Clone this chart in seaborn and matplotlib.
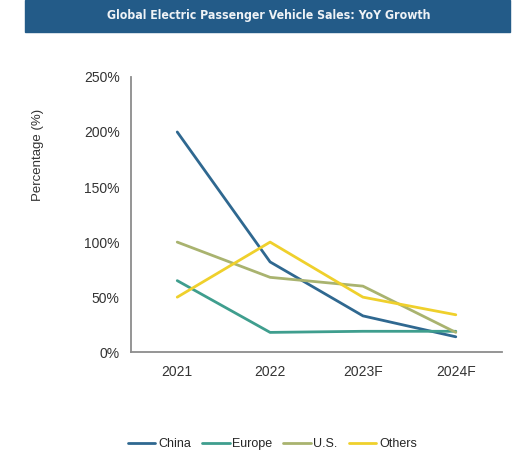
import pandas as pd
import matplotlib
matplotlib.use("Agg")
import matplotlib.pyplot as plt
import seaborn as sns
from matplotlib.ticker import PercentFormatter

# Data
years = ['2021', '2022', '2023F', '2024F']
china = [200, 82, 33, 14]
europe = [65, 18, 19, 19]
us = [100, 68, 60, 18]
others = [50, 100, 50, 34]

df = pd.DataFrame({'Year': years, 'China': china, 'Europe': europe,
                   'U.S.': us, 'Others': others})
long_df = df.melt(id_vars='Year', var_name='Region', value_name='Growth')

palette = {'China': '#2f6890', 'Europe': '#3f9e8e',
           'U.S.': '#a9b36f', 'Others': '#efd02c'}

sns.set_style('white')
plt.rcParams['font.family'] = ['Liberation Sans', 'DejaVu Sans']

fig = plt.figure(figsize=(5.13, 4.69), dpi=100)
ax = fig.add_axes([0.255, 0.249, 0.724, 0.587])

sns.lineplot(data=long_df, x='Year', y='Growth', hue='Region',
             palette=palette, linewidth=2, sort=False, ax=ax, legend=False)

ax.set_xlim(-0.5, 3.5)
ax.set_ylim(0, 250)
ax.set_yticks([0, 50, 100, 150, 200, 250])
ax.yaxis.set_major_formatter(PercentFormatter(decimals=0))
ax.tick_params(axis='both', length=0, labelsize=10, colors='#333333')
ax.tick_params(axis='x', pad=9)
ax.tick_params(axis='y', pad=8)
ax.set_xlabel('')
ax.set_ylabel('Percentage (%)', fontsize=9.5, color='#333333', labelpad=0)
ax.yaxis.set_label_coords(-0.235, 0.716)
for side in ['top', 'right']:
    ax.spines[side].set_visible(False)
for side in ['left', 'bottom']:
    ax.spines[side].set_color('#8c8c8c')
    ax.spines[side].set_linewidth(1.3)

# legend below the plot
handles = [plt.Line2D([0], [0], color=palette[k], lw=2) for k in palette]
fig.legend(handles, list(palette.keys()), loc='center', ncol=4,
           bbox_to_anchor=(0.531, 0.053), frameon=False, fontsize=9,
           handlelength=2.2, handletextpad=0.2, columnspacing=0.9)

# title banner
banner = plt.Rectangle((0.049, 0.932), 0.946, 0.068, transform=fig.transFigure,
                       color='#235b88', zorder=0)
fig.patches.append(banner)
fig.text(0.523, 0.966, 'Global Electric Passenger Vehicle Sales: YoY Growth',
         ha='center', va='center', color='#eef2f6', fontsize=8.8,
         fontweight='bold', fontstretch='condensed',
         family=['DejaVu Sans'])

fig.savefig('out.png', dpi=100)
